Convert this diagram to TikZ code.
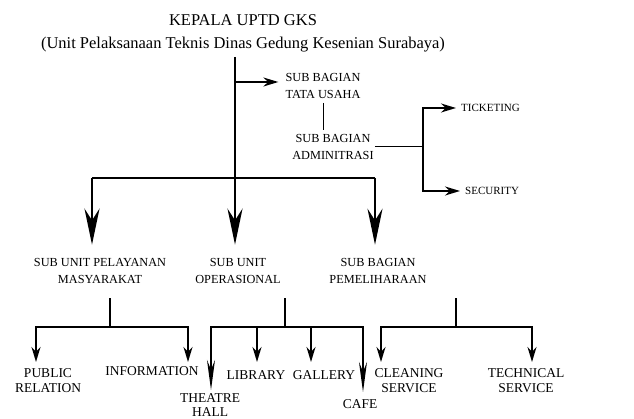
\documentclass[tikz,border=0pt]{standalone}
\usepackage{fontspec}
\setmainfont{Liberation Serif}
\usetikzlibrary{arrows.meta,positioning}

\begin{document}
\begin{tikzpicture}[
    x=1pt, y=-1pt,
    head/.style={align=center, font=\fontsize{16.5}{23}\selectfont, inner sep=1pt},
    unit/.style={align=center, font=\fontsize{12.3}{17}\selectfont, inner sep=1pt},
    leaf/.style={align=center, font=\fontsize{13.5}{15.5}\selectfont, inner sep=1pt},
    side/.style={font=\fontsize{11}{13}\selectfont, inner sep=1pt, anchor=west},
    bigarrow/.style={-{Stealth[length=36pt,width=15pt]}, line width=2.8pt, shorten >=12pt},
    smallarrow/.style={-{Stealth[length=15pt,width=9pt]}, line width=1.8pt},
    longarrow/.style={-{Stealth[length=30pt,width=8pt]}, line width=1.8pt},
    link/.style={line width=1.8pt}
]
    \useasboundingbox (0,0) rectangle (634,419);

    % head of the chart
    \node[head] (kepala) at (243,33) {KEPALA UPTD GKS\\(Unit Pelaksanaan Teknis Dinas Gedung Kesenian Surabaya)};

    % staff units
    \node[unit] (tatausaha) at (323,86) {SUB BAGIAN\\TATA USAHA};
    \node[unit] (admin) at (333,146.5) {SUB BAGIAN\\ADMINITRASI};
    \node[side] (ticketing) at (460,108) {TICKETING};
    \node[side] (security) at (464,191) {SECURITY};

    % line units
    \node[unit] (pelayanan) at (100,270.5) {SUB UNIT PELAYANAN\\MASYARAKAT};
    \node[unit] (operasional) at (238,270.5) {SUB UNIT\\OPERASIONAL};
    \node[unit] (pemeliharaan) at (378,270.5) {SUB BAGIAN\\PEMELIHARAAN};

    % sections
    \node[leaf] (public) at (48,380.5) {PUBLIC\\RELATION};
    \node[leaf] (information) at (152,371) {INFORMATION};
    \node[leaf, font=\fontsize{13.5}{14}\selectfont] (theatre) at (210,405.5) {THEATRE\\HALL};
    \node[leaf] (library) at (256,375) {LIBRARY};
    \node[leaf] (gallery) at (324,375) {GALLERY};
    \node[leaf] (cafe) at (360,404) {CAFE};
    \node[leaf] (cleaning) at (409,380.5) {CLEANING\\SERVICE};
    \node[leaf] (technical) at (526,380.5) {TECHNICAL\\SERVICE};

    % junctions
    \coordinate (spine) at (235,57);
    \coordinate (tap) at (235,82);
    \coordinate (barL) at (92,178);
    \coordinate (barR) at (375,178);
    \coordinate (fork) at (423,146.5);
    \coordinate (pelJ) at (110,327);
    \coordinate (opJ) at (285,327);
    \coordinate (pemJ) at (456,327);

    % top part
    \draw[bigarrow] (spine) -- (spine |- operasional.north);
    \draw[smallarrow, shorten >=6pt] (tap) -- (tap -| tatausaha.west);
    \draw[line width=1pt, shorten <=3pt, shorten >=3pt] (tatausaha.south) -- (tatausaha.south |- admin.north);
    \draw[link] (admin.east) -- (fork);
    \draw[smallarrow, shorten >=4pt] (fork) |- (ticketing.west);
    \draw[smallarrow, shorten >=4pt] (fork) |- (security.west);
    \draw[line width=2.8pt] (barL) -- (barR);
    \draw[bigarrow] (barL) -- (barL |- pelayanan.north);
    \draw[bigarrow] (barR) -- (barR |- pemeliharaan.north);

    % masyarakat
    \draw[link] (pelJ) -- ++(0,-29);
    \draw[smallarrow] (pelJ) -| (36,362);
    \draw[smallarrow] (pelJ) -| (188,362);

    % operasional
    \draw[link] (opJ) -- ++(0,-29);
    \draw[longarrow] (opJ) -| (211,390);
    \draw[smallarrow] (opJ -| 257,0) -- (257,362);
    \draw[smallarrow] (opJ -| 311,0) -- (311,362);
    \draw[longarrow] (opJ) -| (363,392);

    % pemeliharaan
    \draw[link] (pemJ) -- ++(0,-29);
    \draw[smallarrow] (pemJ) -| (381,362);
    \draw[smallarrow] (pemJ) -| (532,362);
\end{tikzpicture}
\end{document}
